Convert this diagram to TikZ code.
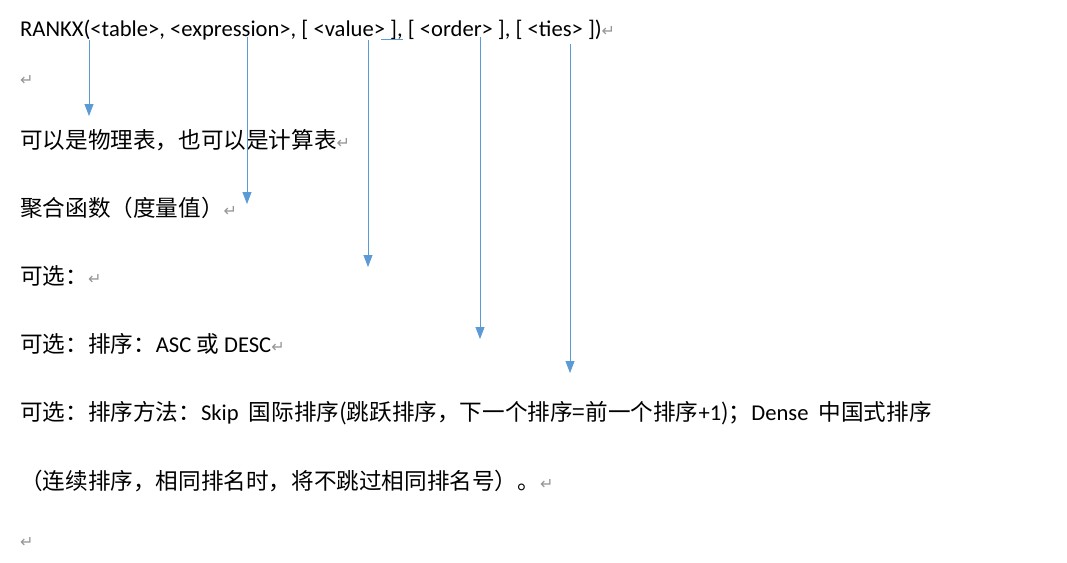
\documentclass[tikz,border=0pt]{standalone}
\usepackage{fontspec}
\usetikzlibrary{arrows.meta}
\setmainfont{Carlito}
\newfontfamily\cjk{Noto Sans CJK SC}
\newfontfamily\symb{DejaVu Sans}
\newcommand{\ret}{{\color{retgray}\symb\fontsize{16}{16}\selectfont ↵}}
\definecolor{arrowblue}{RGB}{91,155,213}
\definecolor{retgray}{RGB}{150,150,150}
\begin{document}
\begin{tikzpicture}[x=1pt,y=-1pt]
  \tikzset{ t/.style={anchor=base west,inner sep=0pt,font=\fontsize{22.6}{22.6}\selectfont},
    a/.style={arrowblue,-{Triangle[length=12pt,width=9pt]},line width=0.8pt},
  }
  \useasboundingbox[fill=white] (0,0) rectangle (1067,562);
  \node[t] (f) at (20,36) {RANKX(<table>, <expression>, [ <value> ], [ <order> ], [ <ties> ])\ret};
  \node[t] (r1) at (20,85) {\ret};
  \node[t] (l1) at (20,148) {\cjk 可以是物理表，也可以是计算表\ret};
  \node[t] (l2) at (20,216) {\cjk 聚合函数（度量值）\ret};
  \node[t] (l3) at (20,284) {\cjk 可选：\ret};
  \node[t] (l4) at (20,352) {{\cjk 可选：排序：}ASC {\cjk 或} DESC\ret};
  \node[t] (l5) at (20,420) {{\cjk 可选：排序方法：}Skip\ \ {\cjk 国际排序(跳跃排序，下一个排序=前一个排序}+1{\cjk )；}Dense\ \ {\cjk 中国式排序}};
  \node[t] (l6) at (20,489) {{\cjk （连续排序，相同排名时，将不跳过相同排名号）。}\ret};
  \node[t] (r2) at (20,547) {\ret};

  % underline marks and arrows
  \coordinate (u1) at (381,40); \coordinate (u2) at (403,40);
  \draw[arrowblue,double,double distance=1pt,line width=0.5pt] (u1) -- (u2);
  \coordinate (s1) at (89,40);  \coordinate (e1) at (89,116);
  \coordinate (s2) at (247,37); \coordinate (e2) at (247,204);
  \coordinate (s3) at (368,40); \coordinate (e3) at (368,267);
  \coordinate (s4) at (480,37); \coordinate (e4) at (480,339);
  \coordinate (s5) at (570,44); \coordinate (e5) at (570,373);
  \foreach \i in {1,...,5}
    \draw[a] (s\i) -- (e\i);
\end{tikzpicture}
\end{document}
